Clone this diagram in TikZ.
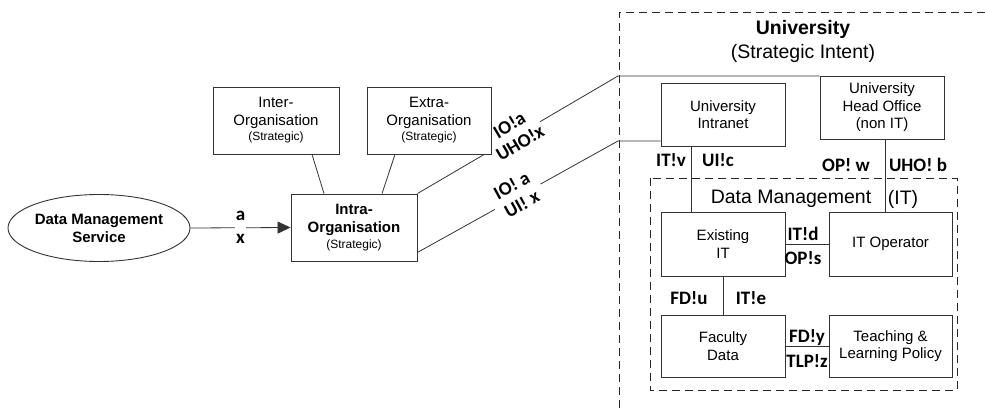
\documentclass[tikz,border=0pt]{standalone}
\usepackage{fontspec}
\usepackage{graphicx}
\setmainfont{Liberation Sans}
\newfontfamily\labfont{Carlito}
\usetikzlibrary{arrows.meta,shapes.geometric}
\pgfdeclarelayer{background}
\pgfsetlayers{background,main}
\begin{document}
\begin{tikzpicture}[x=1pt,y=1pt,
  box/.style={draw=black!80, line width=0.9pt, fill=white, align=center, inner sep=0pt,
    font=\fontsize{15}{17.5}\selectfont},
  conn/.style={draw=black!80, line width=0.8pt},
  dbox/.style={draw=black!85, line width=0.9pt, dash pattern=on 8pt off 5pt},
  lab/.style={font=\labfont\bfseries\fontsize{19}{21}\selectfont, inner sep=0pt, align=center},
  title/.style={font=\fontsize{19.5}{23}\selectfont, inner sep=0pt}
]
\useasboundingbox (0,0) rectangle (985,408);

\coordinate (k1) at (618,332);
\coordinate (k2) at (618,267);
\coordinate (utl) at (619,396);
\coordinate (utr) at (985,396);
\coordinate (ubl) at (619,0);

% nodes
\node[ellipse, draw=black!80, line width=0.9pt, fill=white, minimum width=182pt, minimum height=67pt, inner sep=0pt,
  align=center, font=\bfseries\fontsize{15}{18}\selectfont] (dms) at (99,180) {Data Management\\Service};
\node[box, minimum width=126pt, minimum height=67pt, font=\bfseries\fontsize{15}{18}\selectfont] (intra) at (354,180.5)
  {Intra-\\Organisation\\[-2pt]{\mdseries\fontsize{12}{14}\selectfont (Strategic)}};
\node[box, minimum width=126pt, minimum height=67pt] (inter) at (276,287.5)
  {Inter-\\Organisation\\[-2pt]{\fontsize{12}{14}\selectfont (Strategic)}};
\node[box, minimum width=124pt, minimum height=67pt] (extra) at (429,287.5)
  {Extra-\\Organisation\\[-2pt]{\fontsize{12}{14}\selectfont (Strategic)}};
\node[box, minimum width=124pt, minimum height=63pt] (uni) at (723,293.5) {University\\Intranet};
\node[box, minimum width=124pt, minimum height=63pt] (ho) at (882,300.5) {University\\Head Office\\(non IT)};
\node[box, minimum width=124pt, minimum height=64pt] (eit) at (723,164) {Existing\\IT};
\node[box, minimum width=123pt, minimum height=64pt] (ito) at (890.5,164) {IT Operator};
\node[box, minimum width=124pt, minimum height=62pt] (fac) at (723,62) {Faculty\\Data};
\node[box, minimum width=123pt, minimum height=62pt] (tlp) at (890.5,62) {Teaching \&\\Learning Policy};

% titles
\node[title, font=\bfseries\fontsize{19.5}{23}\selectfont] (t1) at (803,379) {University};
\node[title] (t2) at (803,355) {(Strategic Intent)};
\node[title] (t3) at (791,209) {Data Management};
\node[title] (t4) at (903,209) {(IT)};

% labels
\node[lab] (lv) at (671,248) {IT!v};
\node[lab] (lc) at (718,248) {UI!c};
\node[lab] (lw) at (846,243) {OP! w};
\node[lab] (lb) at (918,243) {UHO! b};
\node[lab] (ld) at (803,174) {IT!d};
\node[lab] (ls) at (803,150) {OP!s};
\node[lab] (lu) at (689,110) {FD!u};
\node[lab] (le) at (751,110) {IT!e};
\node[lab] (ly) at (807,70) {FD!y};
\node[lab] (lz) at (807,47) {TLP!z};

% diagonal labels
\path (intra.north east) -- coordinate[pos=0.49] (m1) (k1);
\path ([yshift=9pt]intra.south east) -- coordinate[pos=0.5] (m2) (k2);
\node[lab] (l1) at (m1) {\rotatebox{30.6}{\begin{tabular}{@{}c@{}}IO!a\\UHO!x\end{tabular}}};
\node[lab] (l2) at (m2) {\rotatebox{28.9}{\begin{tabular}{@{}c@{}}IO! a\\UI! x\end{tabular}}};

\begin{pgfonlayer}{background}
  \fill[white] (0,0) rectangle (985,408);
  % dashed boundaries
  \draw[dbox] (utr) -- (utl) -- (ubl);
  \draw[dbox] (650,230) rectangle (957,18);
  % connectors
  \draw[conn, -{Triangle[length=13pt,width=12pt]}] (dms.east) --
    node[lab, fill=white, inner sep=1pt, font=\labfont\bfseries\fontsize{19}{23}\selectfont] (ax) {a\\x} (intra.west);
  \draw[conn] ([xshift=36]inter.south) -- ([xshift=-30]intra.north);
  \draw[conn] ([xshift=-34]extra.south) -- ([xshift=28]intra.north);
  \draw[conn] (intra.north east) -- (k1) -- (k1 -| ho.west);
  \draw[conn] ([yshift=9pt]intra.south east) -- (k2) -- (k2 -| uni.west);
  \begin{scope}[shift={(m1)}, rotate=30.6]
    \fill[white] (-28,-21) rectangle (28,21);
  \end{scope}
  \begin{scope}[shift={(m2)}, rotate=28.9]
    \fill[white] (-26,-21) rectangle (26,21);
  \end{scope}
  \draw[conn] ([xshift=-32]uni.south) -- ([xshift=-32]eit.north);
  \draw[conn] ([xshift=3]ho.south) -- ([xshift=3]ho.south |- ito.north);
  \draw[conn] (eit.east) -- (ito.west);
  \draw[conn] (eit.south) -- (fac.north);
  \draw[conn] (fac.east) -- (tlp.west);
\end{pgfonlayer}
\end{tikzpicture}
\end{document}
